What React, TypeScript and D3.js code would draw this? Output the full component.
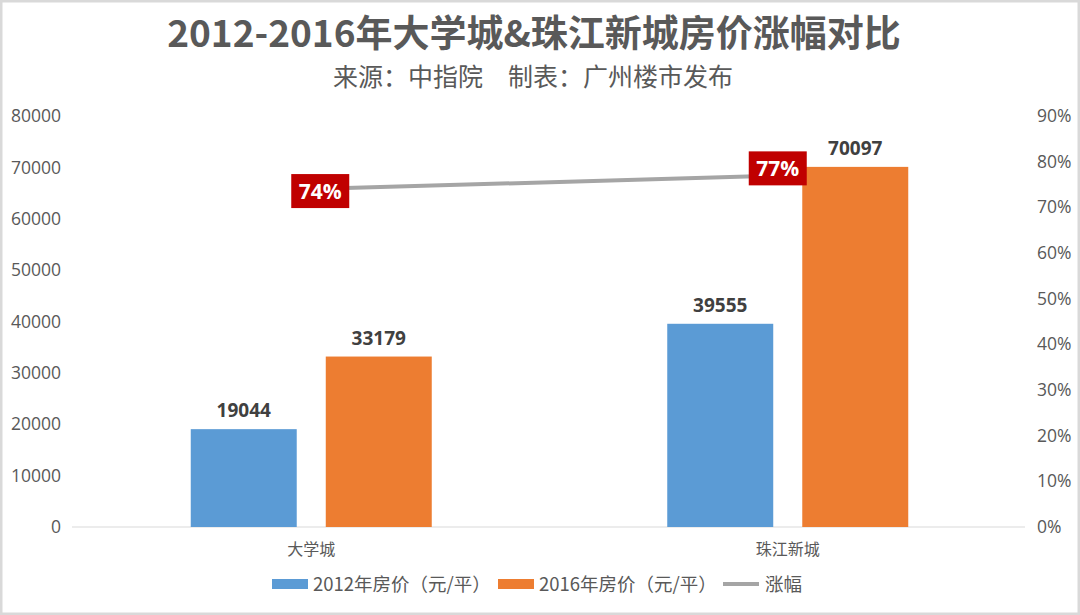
import React from "react";
import * as d3 from "d3";

const categories = ["大学城", "珠江新城"];
const seriesNames = ["2012年房价（元/平）", "2016年房价（元/平）"];
const price2012 = [19044, 39555];
const price2016 = [33179, 70097];
const growth = [0.74, 0.77];
const growthLabels = ["74%", "77%"];
const leftTicks = [0, 10000, 20000, 30000, 40000, 50000, 60000, 70000, 80000];
const rightTicks = [0, 0.1, 0.2, 0.3, 0.4, 0.5, 0.6, 0.7, 0.8, 0.9];
const lineName = "涨幅";
const title = "2012-2016年大学城&珠江新城房价涨幅对比";
const subtitle = "来源：中指院\u3000制表：广州楼市发布";

const W = 1080;
const H = 615;
const COLORS = ["#5b9bd5", "#ed7d31"];
const LINE_COLOR = "#a5a5a5";
const TEXT = "#595959";
const FONT = "'Noto Sans CJK SC', 'Noto Sans', sans-serif";
const NUMFONT = "'Open Sans', 'Noto Sans', sans-serif";
// label offsets relative to the line point (placement only)
const labelOffsets = [
  [9, 2],
  [-10, -7],
];

export default function App() {
  const x0 = d3.scaleBand<string>().domain(categories).range([73, 1026]);
  const x1 = d3
    .scaleBand<number>()
    .domain([0, 1])
    .range([0, 241])
    .paddingInner(0.215)
    .paddingOuter(0);
  const yL = d3.scaleLinear().domain([0, 80000]).range([527, 116]);
  const yR = d3.scaleLinear().domain([0, 0.9]).range([527, 116]);
  const series = [price2012, price2016];
  const cx = (c: string) => (x0(c) as number) + x0.bandwidth() / 2;
  const line = d3
    .line<number>()
    .x((_, i) => cx(categories[i]))
    .y((d) => yR(d));

  return (
    <div style={{ position: "absolute", left: 0, top: 0 }}>
      <svg width={W} height={H} style={{ display: "block" }}>
        <rect x={0} y={0} width={W} height={H} fill="#ffffff" />
        <rect x={1} y={1} width={W - 2} height={H - 2} fill="none" stroke="#d9d9d9" strokeWidth={3} />
        <text x={534} y={47} textAnchor="middle" fontFamily={FONT} fontWeight="bold" fontSize={37} fill={TEXT}>
          {title}
        </text>
        <text x={533} y={86} textAnchor="middle" fontFamily={FONT} fontSize={25} fill={TEXT}>
          {subtitle}
        </text>

        {leftTicks.map((t) => (
          <text key={"l" + t} x={61} y={yL(t)} dy="0.35em" textAnchor="end" fontFamily={NUMFONT} fontSize={17.5} fill={TEXT}>
            {t}
          </text>
        ))}
        {rightTicks.map((t) => (
          <text key={"r" + t} x={1037} y={yR(t)} dy="0.35em" textAnchor="start" fontFamily={NUMFONT} fontSize={17.5} fill={TEXT}>
            {Math.round(t * 100) + "%"}
          </text>
        ))}

        <line x1={72} x2={1025} y1={yL(0)} y2={yL(0)} stroke="#d9d9d9" strokeWidth={1} />

        {categories.map((c, ci) =>
          series.map((s, si) => {
            const bx = (x0(c) as number) + x0.bandwidth() / 2 - 120.5 + (x1(si) as number);
            const by = yL(s[ci]);
            return (
              <g key={c + si}>
                <rect x={bx} y={by} width={x1.bandwidth()} height={yL(0) - by} fill={COLORS[si]} />
                <text
                  x={bx + x1.bandwidth() / 2}
                  y={by - 12}
                  textAnchor="middle"
                  fontFamily={NUMFONT}
                  fontWeight="bold"
                  fontSize={19}
                  fill="#404040"
                >
                  {s[ci]}
                </text>
              </g>
            );
          })
        )}

        {categories.map((c) => (
          <text key={"c" + c} x={cx(c)} y={555} textAnchor="middle" fontFamily={FONT} fontSize={16} fill={TEXT}>
            {c}
          </text>
        ))}

        <path d={line(growth) || ""} fill="none" stroke={LINE_COLOR} strokeWidth={4} />
        {growth.map((g, i) => {
          const px = cx(categories[i]) + labelOffsets[i][0];
          const py = yR(g) + labelOffsets[i][1];
          return (
            <g key={"g" + i}>
              <rect x={px - 29} y={py - 17} width={58} height={34} fill="#c00000" />
              <text x={px} y={py} dy="0.36em" textAnchor="middle" fontFamily={NUMFONT} fontWeight="bold" fontSize={21} fill="#ffffff">
                {growthLabels[i]}
              </text>
            </g>
          );
        })}

        <g fontFamily={FONT} fontSize={18.5} fill={TEXT}>
          <rect x={272} y={579} width={36} height={10} fill={COLORS[0]} />
          <text x={313} y={584} dy="0.36em">{seriesNames[0]}</text>
          <rect x={498} y={579} width={36} height={10} fill={COLORS[1]} />
          <text x={539} y={584} dy="0.36em">{seriesNames[1]}</text>
          <line x1={723} x2={759} y1={584} y2={584} stroke={LINE_COLOR} strokeWidth={4} />
          <text x={765} y={584} dy="0.36em">{lineName}</text>
        </g>
      </svg>
    </div>
  );
}
